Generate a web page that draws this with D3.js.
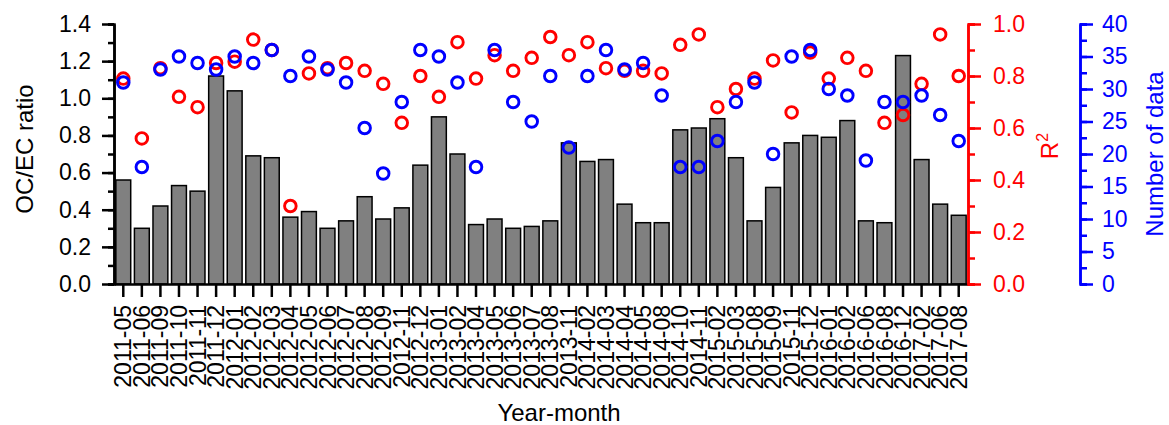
<!DOCTYPE html>
<html>
<head>
<meta charset="utf-8">
<script src="https://cdn.jsdelivr.net/npm/d3@7"></script>
<style>
  body { margin: 0; background: #fff; }
  svg { display: block; font-family: "Liberation Sans", Arial, sans-serif; }
</style>
</head>
<body>
<div id="chart"></div>
<script>
// year-month categories
var months = ["2011-05", "2011-06", "2011-09", "2011-10", "2011-11", "2011-12",
    "2012-01", "2012-02", "2012-03", "2012-04", "2012-05", "2012-06", "2012-07",
    "2012-08", "2012-09", "2012-11", "2012-12", "2013-01", "2013-02", "2013-04",
    "2013-05", "2013-06", "2013-07", "2013-08", "2013-11", "2014-02", "2014-03",
    "2014-04", "2014-05", "2014-08", "2014-10", "2014-11", "2015-02", "2015-03",
    "2015-08", "2015-09", "2015-11", "2015-12", "2016-01", "2016-02", "2016-06",
    "2016-08", "2016-12", "2017-02", "2017-06", "2017-08"];

// OC/EC ratio (bars)
var ocecRatio = [0.56, 0.30, 0.42, 0.53, 0.50, 1.12, 1.04, 0.69, 0.68, 0.36,
    0.39, 0.30, 0.34, 0.47, 0.35, 0.41, 0.64, 0.90, 0.70, 0.32,
    0.35, 0.30, 0.31, 0.34, 0.76, 0.66, 0.67, 0.43, 0.33, 0.33,
    0.83, 0.84, 0.89, 0.68, 0.34, 0.52, 0.76, 0.80, 0.79, 0.88,
    0.34, 0.33, 1.23, 0.67, 0.43, 0.37];

// R2 (red circles)
var r2 = [0.79, 0.56, 0.83, 0.72, 0.68, 0.85, 0.855, 0.94, 0.90, 0.30,
    0.81, 0.83, 0.85, 0.82, 0.77, 0.62, 0.80, 0.72, 0.93, 0.79,
    0.88, 0.82, 0.87, 0.95, 0.88, 0.93, 0.83, 0.82, 0.82, 0.81,
    0.92, 0.96, 0.68, 0.75, 0.79, 0.86, 0.66, 0.89, 0.79, 0.87,
    0.82, 0.62, 0.65, 0.77, 0.96, 0.80];

// number of data (blue circles)
var nData = [31, 18, 33, 35, 34, 33, 35, 34, 36, 32,
    35, 33, 31, 24, 17, 28, 36, 35, 31, 18,
    36, 28, 25, 32, 21, 32, 36, 33, 34, 29,
    18, 18, 22, 28, 31, 20, 35, 36, 30, 29,
    19, 28, 28, 29, 26, 22];

var leftTicks = [0, 0.2, 0.4, 0.6, 0.8, 1.0, 1.2, 1.4];
var r2Ticks = [0, 0.2, 0.4, 0.6, 0.8, 1.0];
var nTicks = [0, 5, 10, 15, 20, 25, 30, 35, 40];

var svgWidth = 1169;
var svgHeight = 425;

var plot = { left: 114, right: 968, top: 24, bottom: 284 };
var blueAxisX = 1080;

var svg = d3.select("#chart")
    .append("svg")
    .attr("width", svgWidth)
    .attr("height", svgHeight);

// scales
var xScale = d3.scaleBand()
    .domain(months)
    .range([plot.left, plot.right])
    .paddingInner(0.2)
    .paddingOuter(0.1);

var yLeft = d3.scaleLinear().domain([0, 1.4]).range([plot.bottom, plot.top]);
var yR2 = d3.scaleLinear().domain([0, 1.0]).range([plot.bottom, plot.top]);
var yN = d3.scaleLinear().domain([0, 40]).range([plot.bottom, plot.top]);

// bars
svg.append("g")
    .selectAll("rect")
    .data(months)
    .enter()
    .append("rect")
    .attr("x", d => xScale(d))
    .attr("y", (d, i) => yLeft(ocecRatio[i]))
    .attr("width", xScale.bandwidth())
    .attr("height", (d, i) => plot.bottom - yLeft(ocecRatio[i]))
    .attr("fill", "#808080")
    .attr("stroke", "#000")
    .attr("stroke-width", 1.5);

var cx = d => xScale(d) + xScale.bandwidth() / 2;

// red circles (R2)
svg.append("g")
    .selectAll("circle")
    .data(months)
    .enter()
    .append("circle")
    .attr("cx", cx)
    .attr("cy", (d, i) => yR2(r2[i]))
    .attr("r", 5.8)
    .attr("fill", "none")
    .attr("stroke", "#ff0000")
    .attr("stroke-width", 2.9);

// blue circles (number of data)
svg.append("g")
    .selectAll("circle")
    .data(months)
    .enter()
    .append("circle")
    .attr("cx", cx)
    .attr("cy", (d, i) => yN(nData[i]))
    .attr("r", 5.8)
    .attr("fill", "none")
    .attr("stroke", "#0000ff")
    .attr("stroke-width", 2.9);

// helper to style an axis group
function styleAxis(g, color, fontSize) {
    g.select(".domain").attr("stroke", color).attr("stroke-width", 2.5);
    g.selectAll(".tick line").attr("stroke", color).attr("stroke-width", 2.5);
    g.selectAll(".tick text")
        .attr("fill", color)
        .style("font-size", fontSize + "px")
        .style("font-family", "'Liberation Sans', Arial, sans-serif");
}

// minor ticks
function minorTicks(step, max) {
    return d3.range(0, max + step / 2, step);
}

// left axis
var leftMinor = svg.append("g")
    .attr("transform", `translate(${plot.left},0)`)
    .call(d3.axisLeft(yLeft).tickValues(minorTicks(0.1, 1.4)).tickSize(6).tickFormat(""));
styleAxis(leftMinor, "#000", 23);

var leftAxis = svg.append("g")
    .attr("transform", `translate(${plot.left},0)`)
    .call(d3.axisLeft(yLeft).tickValues(leftTicks).tickSizeInner(12).tickSizeOuter(0)
        .tickPadding(11).tickFormat(d3.format(".1f")));
styleAxis(leftAxis, "#000", 23);

// bottom axis
var bottomAxis = svg.append("g")
    .attr("transform", `translate(0,${plot.bottom})`)
    .call(d3.axisBottom(xScale).tickSizeInner(13).tickSizeOuter(0));
styleAxis(bottomAxis, "#000", 23);
bottomAxis.selectAll(".tick text")
    .attr("transform", "rotate(-90)")
    .attr("x", -21)
    .attr("y", 0)
    .attr("dy", "0.35em")
    .attr("text-anchor", "end");

// R2 axis (red)
var r2Minor = svg.append("g")
    .attr("transform", `translate(${plot.right},0)`)
    .call(d3.axisRight(yR2).tickValues(minorTicks(0.1, 1.0)).tickSize(7).tickFormat(""));
styleAxis(r2Minor, "#ff0000", 23);

var r2Axis = svg.append("g")
    .attr("transform", `translate(${plot.right},0)`)
    .call(d3.axisRight(yR2).tickValues(r2Ticks).tickSizeInner(13).tickSizeOuter(0)
        .tickPadding(12).tickFormat(d3.format(".1f")));
styleAxis(r2Axis, "#ff0000", 23);

// number of data axis (blue)
var nMinor = svg.append("g")
    .attr("transform", `translate(${blueAxisX},0)`)
    .call(d3.axisRight(yN).tickValues(minorTicks(2.5, 40)).tickSize(7).tickFormat(""));
styleAxis(nMinor, "#0000ff", 23);

var nAxis = svg.append("g")
    .attr("transform", `translate(${blueAxisX},0)`)
    .call(d3.axisRight(yN).tickValues(nTicks).tickSizeInner(13).tickSizeOuter(0)
        .tickPadding(9));
styleAxis(nAxis, "#0000ff", 23);

// axis titles
svg.append("text")
    .attr("transform", "translate(33,149) rotate(-90)")
    .attr("text-anchor", "middle")
    .style("font-size", "24px")
    .text("OC/EC ratio");

svg.append("text")
    .attr("x", 559)
    .attr("y", 421)
    .attr("text-anchor", "middle")
    .style("font-size", "24px")
    .text("Year-month");

var r2Title = svg.append("text")
    .attr("transform", "translate(1058,146) rotate(-90)")
    .attr("text-anchor", "middle")
    .attr("fill", "#ff0000")
    .style("font-size", "24px");
r2Title.append("tspan").text("R");
r2Title.append("tspan")
    .attr("dy", "-0.6em")
    .style("font-size", "16px")
    .text("2");

svg.append("text")
    .attr("transform", "translate(1163,154) rotate(-90)")
    .attr("text-anchor", "middle")
    .attr("fill", "#0000ff")
    .style("font-size", "24px")
    .text("Number of data");
</script>
</body>
</html>
